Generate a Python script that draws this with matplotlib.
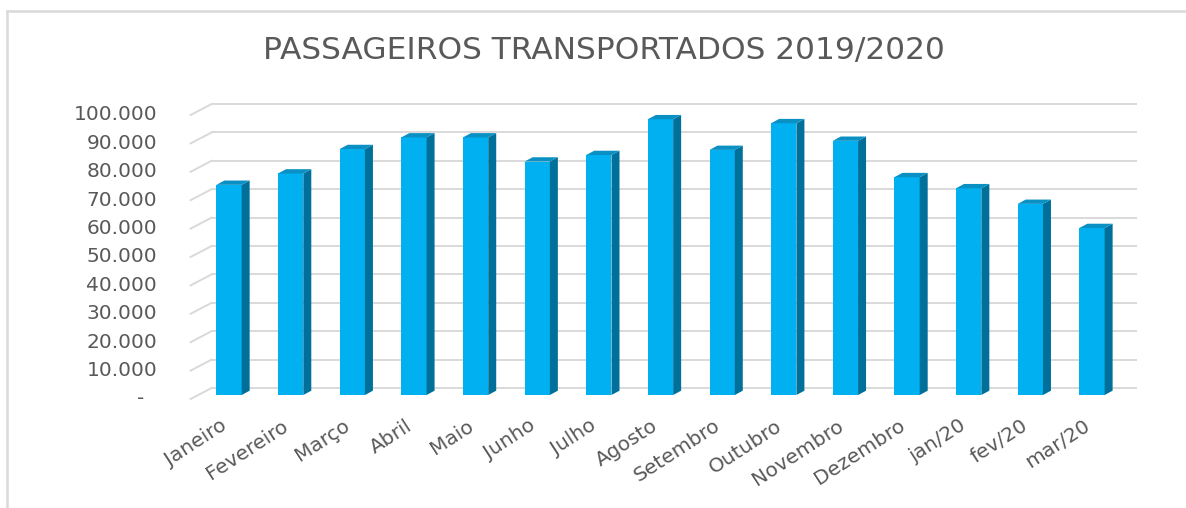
import matplotlib
matplotlib.use("Agg")
import matplotlib.pyplot as plt
from matplotlib.patches import Polygon
from matplotlib.lines import Line2D
from matplotlib.transforms import ScaledTranslation, IdentityTransform

categories = ["Janeiro", "Fevereiro", "Março", "Abril", "Maio", "Junho", "Julho",
              "Agosto", "Setembro", "Outubro", "Novembro", "Dezembro",
              "jan/20", "fev/20", "mar/20"]
passengers = [74000, 78000, 86600, 90700, 90700, 82200, 84500, 97100,
              86300, 95700, 89500, 76700, 72800, 67300, 58800]
ytick_values = [0, 10000, 20000, 30000, 40000, 50000, 60000, 70000, 80000, 90000, 100000]
ytick_labels = ["-  ", "10.000", "20.000", "30.000", "40.000", "50.000", "60.000",
                "70.000", "80.000", "90.000", "100.000"]
title = "PASSAGEIROS TRANSPORTADOS 2019/2020"

W, H = 1186, 508
fig = plt.figure(figsize=(W / 100, H / 100), dpi=100)
fig.patch.set_facecolor("white")

# axes = bar plane
left_px, right_px, bottom_px, top_px = 198.2, 1122.8, 395, 111
ax = fig.add_axes([left_px / W, 1 - bottom_px / H, (right_px - left_px) / W,
                   (bottom_px - top_px) / H])
ax.set_xlim(-0.5, len(categories) - 0.5)
ax.set_ylim(0, 100000)
ax.axis("off")

TEXT = "#595959"
GRID = "#D9D9D9"
FRONT = "#00B0F0"
SIDE = "#00709A"
TOP = "#0A90C2"
ID = IdentityTransform()

def off(dx, dy):
    return ax.transData + ScaledTranslation(dx / 100, dy / 100, fig.dpi_scale_trans)

# back-wall geometry offsets (pixels; y up positive)
back_dx, back_dy = 13.4, 7
front_dx, front_dy = -7.6, -4
x0, x1 = ax.get_xlim()

for v in ytick_values:
    p_back_l = ax.transData.transform((x0, v)) + (back_dx, back_dy)
    p_back_r = ax.transData.transform((x1, v)) + (back_dx, back_dy)
    p_front_l = ax.transData.transform((x0, v)) + (front_dx, front_dy)
    for a, b in [(p_front_l, p_back_l), (p_back_l, p_back_r)]:
        ln = Line2D([a[0], b[0]], [a[1], b[1]], color=GRID, lw=1.4,
                    transform=ID, zorder=1, clip_on=False)
        ax.add_artist(ln)

# y labels
for v, lab in zip(ytick_values, ytick_labels):
    ax.text(x0, v, lab, transform=off(-41, -4), ha="right", va="center",
            fontsize=14.5, color=TEXT, clip_on=False)

# bars
w = 0.41
xs = list(range(len(categories)))
ax.bar(xs, passengers, width=w, color=FRONT, zorder=3, clip_on=False)
ddx, ddy = 8, 4.3
for x, v in zip(xs, passengers):
    br = ax.transData.transform((x + w / 2, 0))
    tr = ax.transData.transform((x + w / 2, v))
    tl = ax.transData.transform((x - w / 2, v))
    side = Polygon([br, tr, tr + (ddx, ddy), br + (ddx, ddy)], closed=True,
                   facecolor=SIDE, edgecolor="none", transform=ID, zorder=3,
                   clip_on=False)
    top = Polygon([tl, tr, tr + (ddx, ddy), tl + (ddx, ddy)], closed=True,
                  facecolor=TOP, edgecolor="none", transform=ID, zorder=3,
                  clip_on=False)
    ax.add_artist(side)
    ax.add_artist(top)

# x labels
for x, c in zip(xs, categories):
    ax.text(x, 0, c, transform=off(-4, -29), rotation=33, ha="right", va="center",
            rotation_mode="anchor", fontsize=14.5, color=TEXT, clip_on=False)

fig.text(604 / W, 1 - 50 / H, title, ha="center", va="center", fontsize=22.5,
         color=TEXT)

# chart-area border (left and top edges visible)
fig.add_artist(Line2D([7 / W, 7 / W], [0, 1 - 11 / H], color=GRID, lw=1.8,
                      transform=fig.transFigure))
fig.add_artist(Line2D([7 / W, 1], [1 - 11 / H, 1 - 11 / H], color=GRID, lw=1.8,
                      transform=fig.transFigure))

fig.savefig("out.png", dpi=100, facecolor="white")
